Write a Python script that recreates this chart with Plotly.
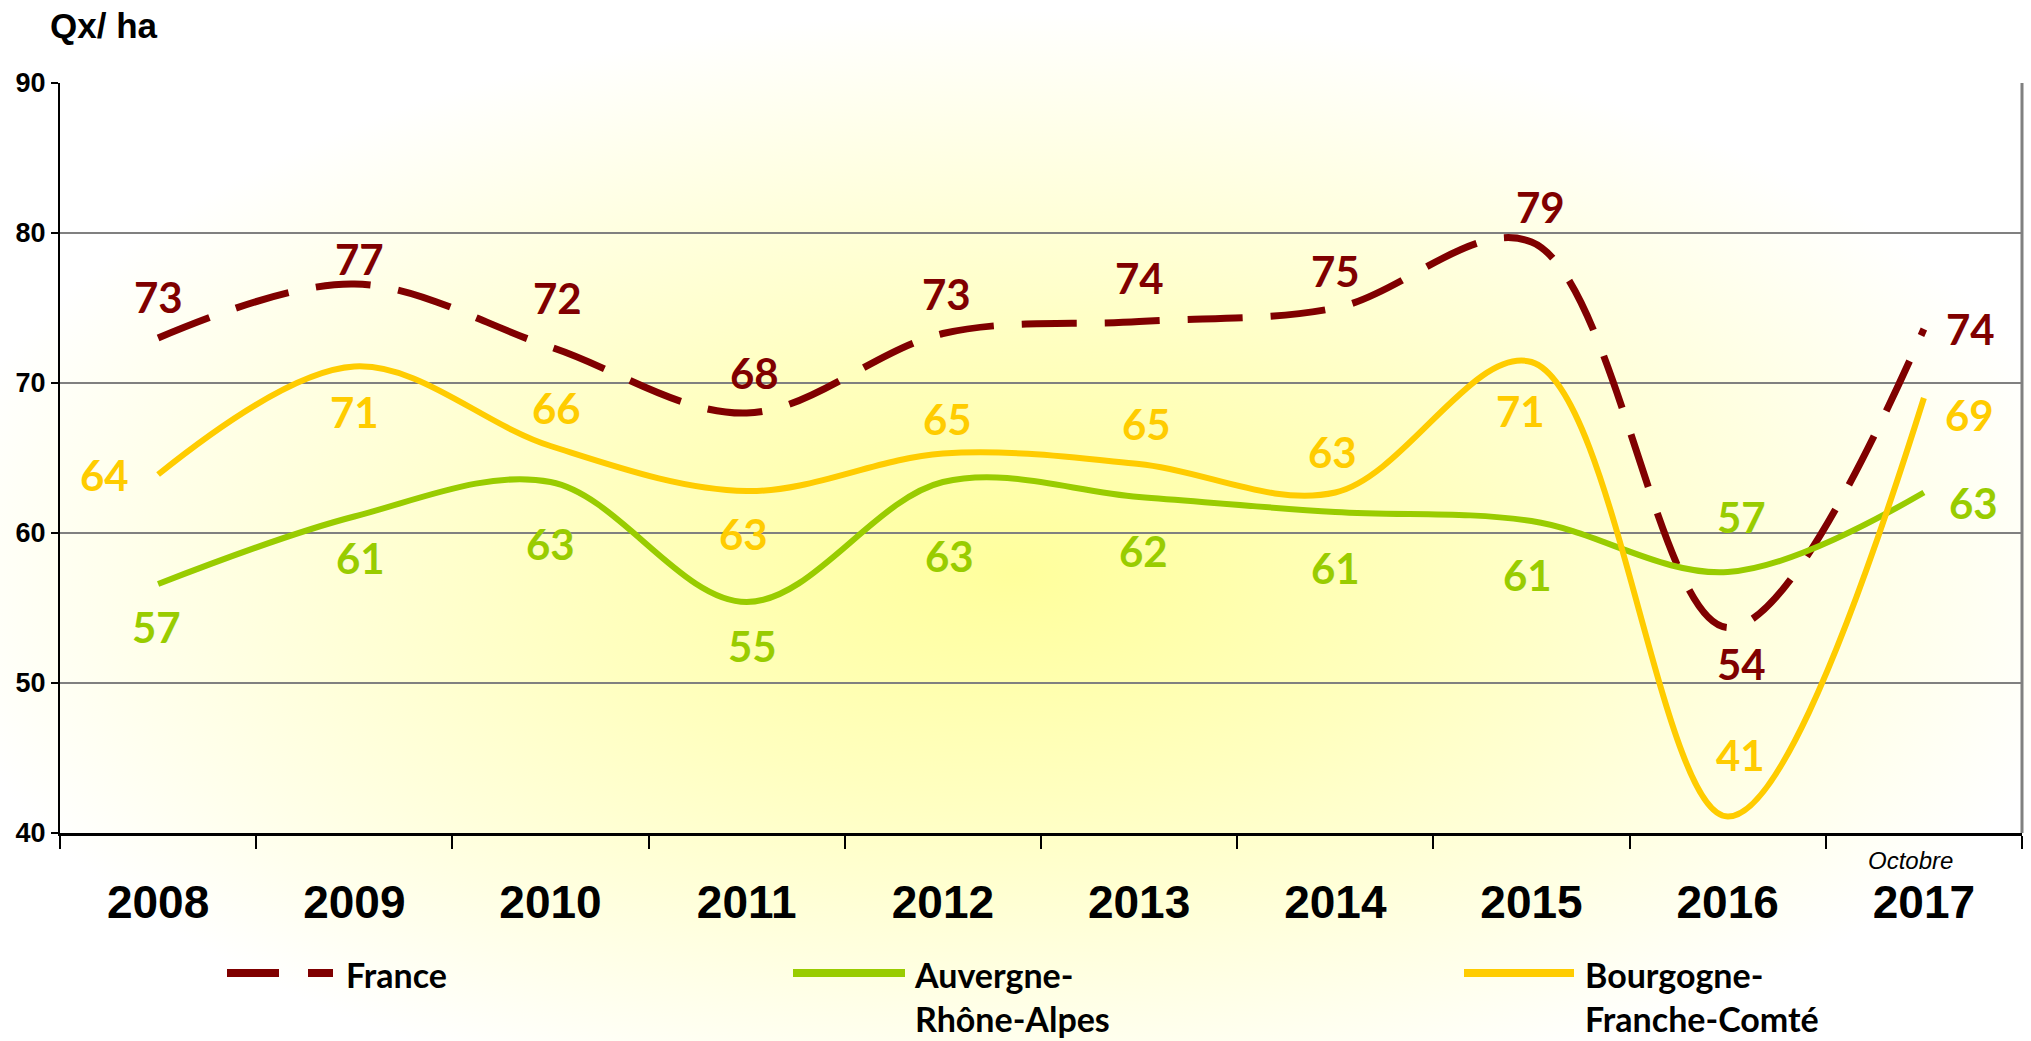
import base64
import plotly.graph_objects as go

# ---------------- data ----------------
years = ["2008", "2009", "2010", "2011", "2012", "2013", "2014", "2015", "2016", "2017"]
france = [73.0, 76.6, 72.4, 68.0, 73.3, 74.1, 75.0, 79.4, 53.7, 73.6]
auvergne = [56.6, 61.1, 63.4, 55.4, 63.4, 62.4, 61.4, 60.8, 57.4, 62.7]
bourgogne = [63.9, 71.1, 65.8, 62.8, 65.3, 64.6, 62.7, 71.4, 41.1, 69.0]
y_ticks = [40, 50, 60, 70, 80, 90]

# label offsets (screen px: dx right, dy down) - style only
off_fr = [(0, -41), (5, -25), (7, -49), (8, -40), (4, -40), (0, -44), (0, -37), (9, -35), (14, 36), (47, 0)]
off_au = [(-2, 43), (6, 41), (0, 62), (6, 44), (7, 74), (4, 54), (0, 56), (-4, 54), (14, -55), (50, 10)]
off_bo = [(-54, 0), (0, 45), (6, -38), (-3, 43), (5, -35), (7, -40), (-3, -41), (-11, 49), (13, -62), (46, 17)]

C_FR = "#800000"
C_AU = "#99CC00"
C_BO = "#FFCC00"

W, H = 2031, 1041
PX0, PX1 = 60, 2022              # plot area in screenshot pixels
PY0, PY1 = 83, 833


def px(x):
    return x / W


def py(y):
    return (H - y) / H


fig = go.Figure()

series = [
    ("France", france, C_FR, 7, "55px,28px", off_fr),
    ("Auvergne-Rhône-Alpes", auvergne, C_AU, 6, "solid", off_au),
    ("Bourgogne-Franche-Comté", bourgogne, C_BO, 6, "solid", off_bo),
]

for name, vals, col, w, dash, _ in series:
    fig.add_trace(go.Scatter(
        x=years, y=vals, name=name, mode="lines",
        line=dict(color=col, width=w, dash=dash, shape="spline", smoothing=1),
        showlegend=False, hoverinfo="skip",
    ))

annotations = []
for name, vals, col, w, dash, offs in series:
    for i, (v, (dx, dy)) in enumerate(zip(vals, offs)):
        annotations.append(dict(
            x=i, y=v, xref="x", yref="y", text=f"{round(v)}",
            showarrow=False, xshift=dx, yshift=-dy,
            xanchor="center", yanchor="middle",
            font=dict(family="Lato", size=42, color=col, weight="bold"),
        ))

# y-axis title
annotations.append(dict(
    x=px(48), y=py(25), xref="paper", yref="paper", text="Qx/ ha",
    showarrow=False, xanchor="left", yanchor="middle",
    font=dict(family="Liberation Sans", size=35, color="black", weight="bold"),
))
# Octobre
annotations.append(dict(
    x=len(years) - 1, y=py(860), xref="x", yref="paper", text="<i>Octobre</i>",
    showarrow=False, xanchor="center", yanchor="middle", xshift=-13,
    font=dict(family="Liberation Sans", size=24, color="black"),
))

# manual legend
shapes = []
legend_items = [
    ("France", C_FR, "52px,29px", 227, 333, 344),
    ("Auvergne-<br>Rhône-Alpes", C_AU, "solid", 793, 905, 912),
    ("Bourgogne-<br>Franche-Comté", C_BO, "solid", 1464, 1574, 1583),
]
for text, col, dash, x0, x1, tx in legend_items:
    shapes.append(dict(type="line", xref="paper", yref="paper",
                       x0=px(x0), x1=px(x1), y0=py(973), y1=py(973),
                       line=dict(color=col, width=8, dash=dash)))
    annotations.append(dict(
        x=px(tx), y=py(952), xref="paper", yref="paper", text=text,
        showarrow=False, xanchor="left", yanchor="top", align="left",
        font=dict(family="Lato", size=34, color="black", weight="bold"),
    ))

# right border of plot area (grey)
shapes.append(dict(type="line", xref="x domain", yref="y domain",
                   x0=1, x1=1, y0=0, y1=1, line=dict(color="#808080", width=3)))

svg = (
    f"<svg xmlns='http://www.w3.org/2000/svg' width='{W}' height='{H}'>"
    "<defs><radialGradient id='g' cx='0.5' cy='0.55' r='0.54'>"
    "<stop offset='0' stop-color='#FFFF9C'/>"
    "<stop offset='0.4' stop-color='#FFFFC0'/>"
    "<stop offset='1' stop-color='#FFFFFF'/>"
    "</radialGradient></defs>"
    "<rect width='100%' height='100%' fill='url(#g)'/></svg>"
)
src = "data:image/svg+xml;base64," + base64.b64encode(svg.encode()).decode()

fig.update_layout(
    width=W, height=H,
    margin=dict(l=0, r=0, t=0, b=0),
    paper_bgcolor="white",
    plot_bgcolor="rgba(0,0,0,0)",
    showlegend=False,
    hovermode=False,
    images=[dict(source=src, xref="paper", yref="paper", x=0, y=1,
                 sizex=1, sizey=1, xanchor="left", yanchor="top",
                 sizing="stretch", layer="below")],
    annotations=annotations,
    shapes=shapes,
    xaxis=dict(
        domain=[px(PX0), px(PX1)],
        type="category", categoryorder="array", categoryarray=years,
        range=[-0.5, 9.5],
        showgrid=False, zeroline=False,
        showline=True, linecolor="black", linewidth=3,
        ticks="outside", tickson="boundaries", ticklen=13, tickwidth=2, tickcolor="black",
        tickfont=dict(family="Liberation Sans", size=46, color="black", weight="bold"),
        ticklabelstandoff=27,
        automargin=False, fixedrange=True,
    ),
    yaxis=dict(
        domain=[py(PY1), py(PY0)],
        range=[40, 90], tickvals=y_ticks,
        showgrid=True, gridcolor="#808080", gridwidth=2,
        zeroline=False,
        showline=True, linecolor="black", linewidth=2,
        ticks="outside", ticklen=7, tickwidth=2, tickcolor="black",
        tickfont=dict(family="Liberation Sans", size=27, color="black", weight="bold"),
        ticklabelstandoff=0,
        automargin=False, fixedrange=True,
    ),
)

fig.write_html(
    "out.html",
    config={"displayModeBar": False, "staticPlot": True},
    post_script="document.body.style.margin='0px';document.body.style.overflow='hidden';",
)
